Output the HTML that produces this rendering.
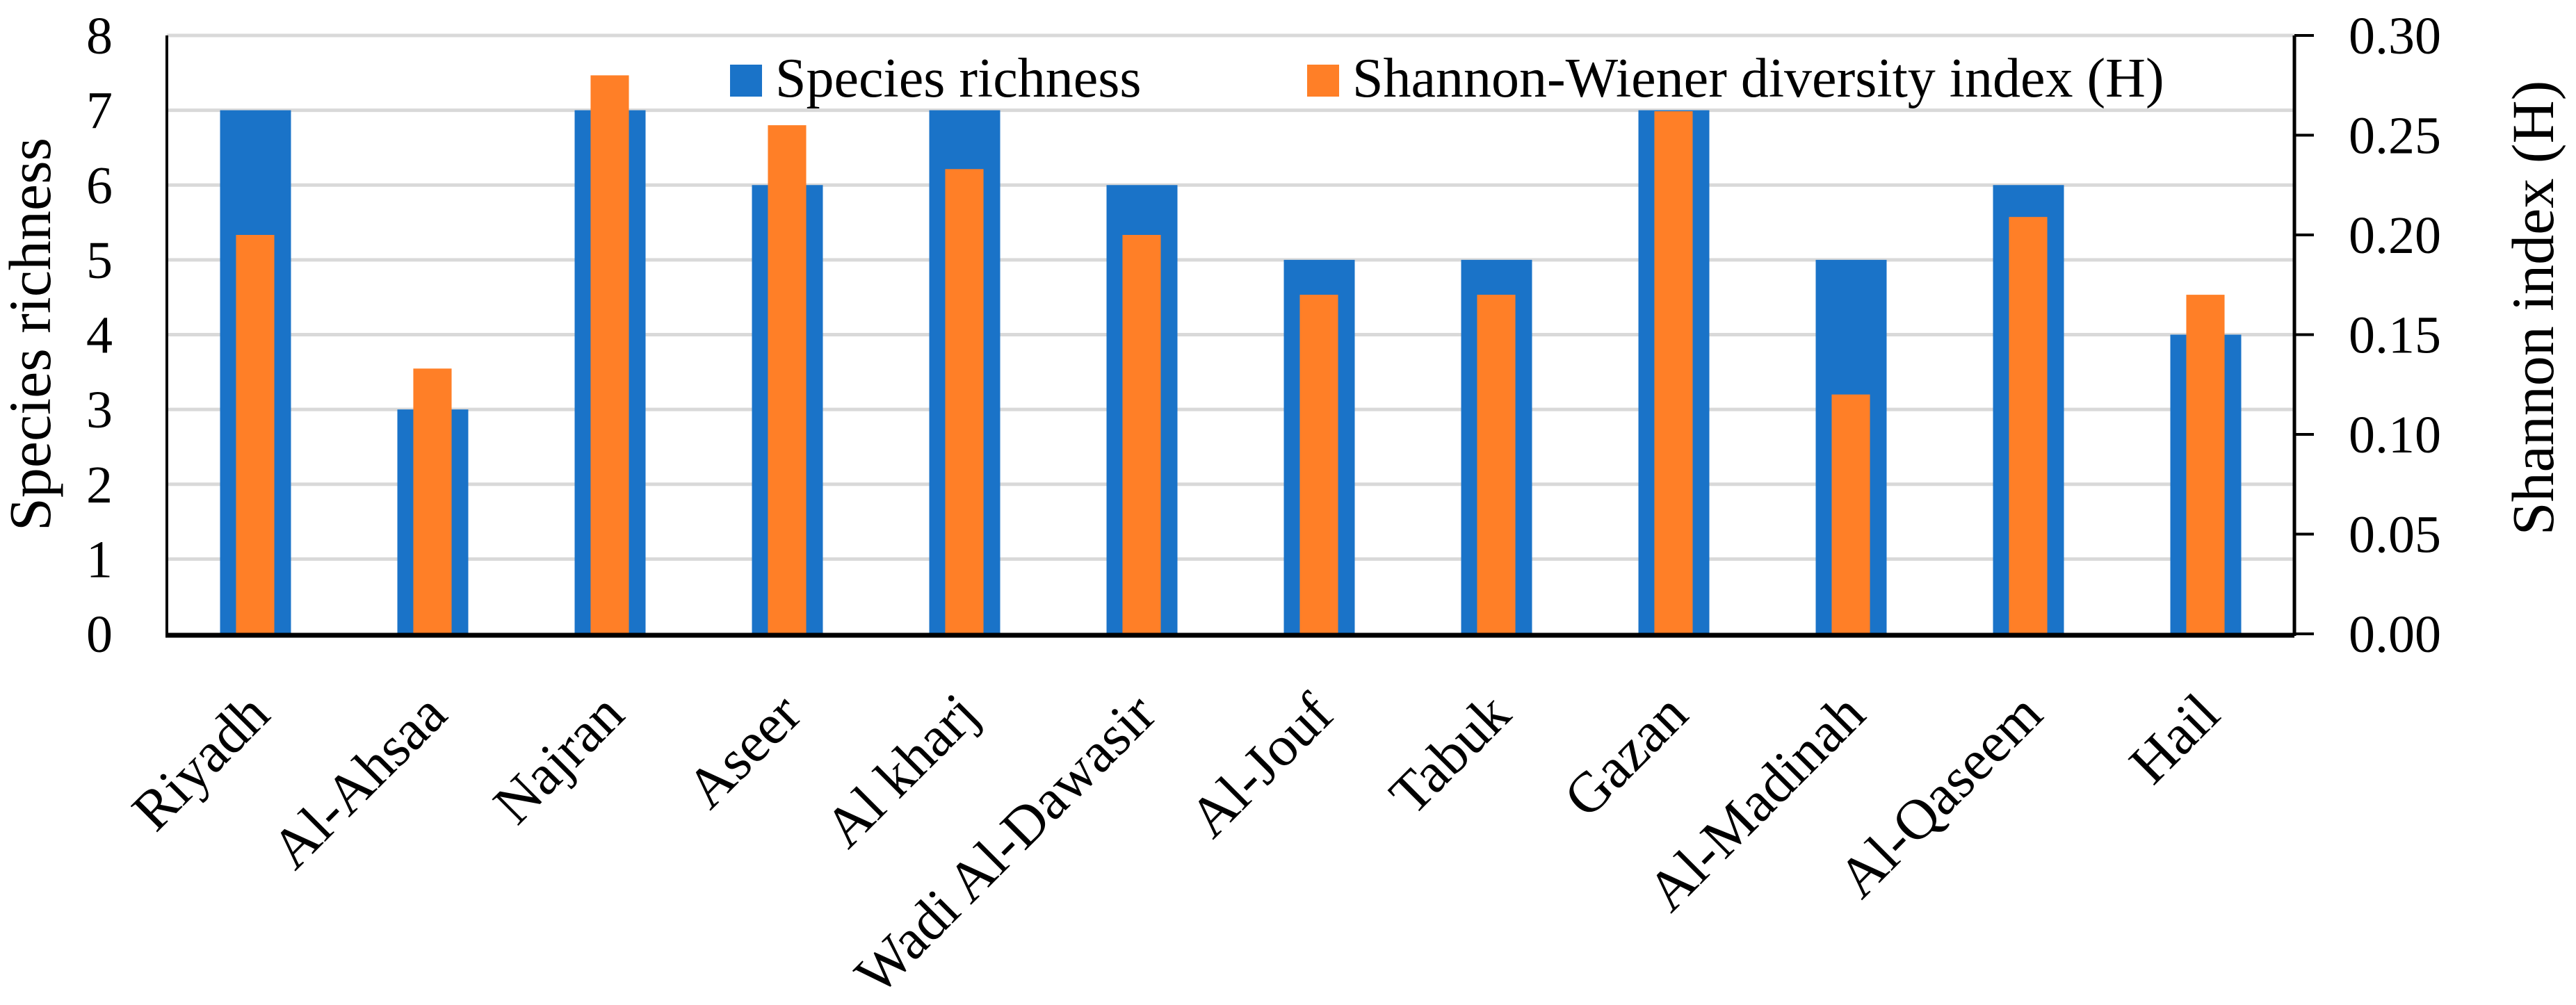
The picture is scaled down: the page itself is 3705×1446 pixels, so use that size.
<!DOCTYPE html>
<html><head><meta charset="utf-8"><style>
html,body{margin:0;padding:0;background:#fff;}
svg{display:block;font-family:"Liberation Serif",serif;}
</style></head><body>
<svg id="chart" width="3705" height="1446" viewBox="0 0 3705 1446" xmlns="http://www.w3.org/2000/svg">
<g id="grid"></g>
<g id="bars"></g>
<g id="axes"></g>
<g id="legend">
  <rect x="1050" y="93" width="46" height="46" fill="#1a73c8"/>
  <text x="1115" y="139" font-size="80">Species richness</text>
  <rect x="1880" y="93" width="46" height="46" fill="#ff7f27"/>
  <text x="1945" y="139" font-size="80">Shannon-Wiener diversity index (H)</text>
</g>
<text transform="translate(72,481) rotate(-90)" text-anchor="middle" font-size="86">Species richness</text>
<text transform="translate(3672,443) rotate(-90)" text-anchor="middle" font-size="86">Shannon index (H)</text>
</svg>
<script>
const categories = ["Riyadh","Al-Ahsaa","Najran","Aseer","Al kharj","Wadi Al-Dawasir","Al-Jouf","Tabuk","Gazan","Al-Madinah","Al-Qaseem","Hail"];
const richness = [7,3,7,6,7,6,5,5,7,5,6,4];
const shannon = [0.20,0.133,0.28,0.255,0.233,0.20,0.17,0.17,0.262,0.12,0.209,0.17];
const leftTicks = [0,1,2,3,4,5,6,7,8];
const rightTicks = ["0.00","0.05","0.10","0.15","0.20","0.25","0.30"];

const NS = "http://www.w3.org/2000/svg";
const X0 = 240, X1 = 3300, Y0 = 912, Y1 = 51;
const band = (X1 - X0) / categories.length;
function xC(i){ return X0 + band * (i + 0.5); }
function yL(v){ return Y0 - (Y0 - Y1) * v / 8; }
function yR(v){ return Y0 - (Y0 - Y1) * v / 0.30; }
function mk(tag, attrs, parent){ const e = document.createElementNS(NS, tag); for (const k in attrs) e.setAttribute(k, attrs[k]); parent.appendChild(e); return e; }

const grid = document.getElementById('grid');
const bars = document.getElementById('bars');
const axes = document.getElementById('axes');

leftTicks.forEach(t => {
  if (t > 0) {
    const g = mk('line', {x1: X0, x2: X1, y1: yL(t), y2: yL(t), stroke: '#d9d9d9', 'stroke-width': 5}, grid);
    
    
  }
  const tx = mk('text', {x: 162, y: yL(t) + 26, 'text-anchor': 'end', 'font-size': 76}, axes);
  tx.textContent = t;
  
  
});

rightTicks.forEach(t => {
  const v = parseFloat(t);
  const tk = mk('line', {x1: X1, x2: X1 + 28, y1: yR(v), y2: yR(v), stroke: '#000', 'stroke-width': 4}, axes);
  
  
  const tx = mk('text', {x: 3378, y: yR(v) + 26, 'font-size': 76}, axes);
  tx.textContent = t;
  
  
});

const bw = band * 0.40, ow = band * 0.216;
categories.forEach((c, i) => {
  const cx = xC(i);
  const b = mk('rect', {x: cx - bw / 2, y: yL(richness[i]), width: bw, height: Y0 - yL(richness[i]), fill: '#1a73c8'}, bars);
  
  
  const o = mk('rect', {x: cx - bw / 2 + band * 0.09, y: yR(shannon[i]), width: ow, height: Y0 - yR(shannon[i]), fill: '#ff7f27'}, bars);
  
  
  const lx = cx + 24, ly = 1032;
  const l = mk('text', {x: lx, y: ly, 'text-anchor': 'end', 'font-size': 82, transform: 'rotate(-45 ' + lx + ' ' + ly + ')'}, axes);
  l.textContent = c;
  
  
});

const la = mk('line', {x1: X0, x2: X0, y1: Y1, y2: Y0, stroke: '#000', 'stroke-width': 4}, axes);


const ra = mk('line', {x1: X1, x2: X1, y1: Y1, y2: Y0 + 3, stroke: '#000', 'stroke-width': 5}, axes);


const xa = mk('line', {x1: X0 - 2, x2: X1, y1: Y0 + 2, y2: Y0 + 2, stroke: '#000', 'stroke-width': 7}, axes);


</script>
</body></html>
